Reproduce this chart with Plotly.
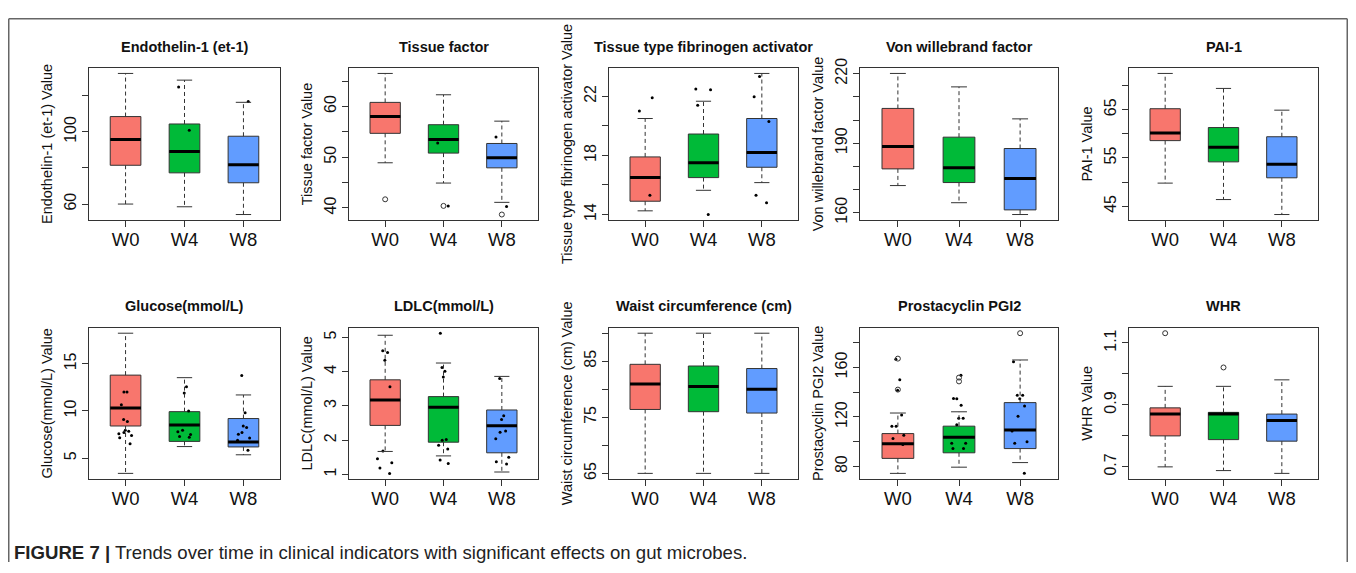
import plotly.graph_objects as go

# page body has an 8px margin on every side; the figure is sized so the page does not overflow
OX, OY = 8, 8
W, H = 1356 - 2 * OX, 573 - 2 * OY

groups = ["W0", "W4", "W8"]
positions = [1, 2, 3]
box_colors = ["#F8766D", "#00BA38", "#619CFF"]

# ---------------- data ----------------
# Endothelin-1 (et-1)
et1_q1 = [81.5, 77.3, 71.8]
et1_med = [95.8, 89.1, 81.8]
et1_q3 = [108.5, 104.4, 97.6]
et1_lo = [60.0, 58.5, 54.2]
et1_hi = [132.4, 128.7, 116.4]
et1_out = [[], [], []]
et1_pts = [[], [124.9, 100.9], [116.9]]
et1_ticks = [60, 80, 100, 120]
et1_labels = ["60", "", "100", ""]

# Tissue factor
tf_q1 = [54.7, 50.8, 47.9]
tf_med = [58.0, 53.5, 49.9]
tf_q3 = [60.8, 56.4, 52.7]
tf_lo = [48.9, 44.9, 41.1]
tf_hi = [66.5, 62.3, 57.1]
tf_out = [[41.7], [40.4], [38.7]]
tf_pts = [[], [52.8, 40.4], [54.0, 40.3]]
tf_ticks = [40, 45, 50, 55, 60, 65]
tf_labels = ["40", "", "50", "", "60", ""]

# Tissue type fibrinogen activator
tta_q1 = [14.9, 16.5, 17.2]
tta_med = [16.5, 17.5, 18.2]
tta_q3 = [17.9, 19.45, 20.5]
tta_lo = [14.25, 15.64, 16.16]
tta_hi = [20.5, 21.67, 23.55]
tta_out = [[], [], []]
tta_pts = [[21.9, 21.0, 15.3], [22.5, 22.45, 21.4, 14.0], [23.34, 21.97, 20.3, 15.3, 14.8]]
tta_ticks = [14, 16, 18, 20, 22]
tta_labels = ["14", "", "18", "", "22"]

# Von willebrand factor
vwf_q1 = [178.9, 173.0, 161.2]
vwf_med = [188.6, 179.4, 174.8]
vwf_q3 = [205.0, 192.6, 187.7]
vwf_lo = [171.7, 164.3, 159.2]
vwf_hi = [220.1, 214.3, 200.5]
vwf_out = [[], [], []]
vwf_pts = [[], [], []]
vwf_ticks = [160, 170, 180, 190, 200, 210, 220]
vwf_labels = ["160", "", "", "190", "", "", "220"]

# PAI-1
pai_q1 = [58.6, 54.2, 50.9]
pai_med = [60.2, 57.2, 53.7]
pai_q3 = [65.2, 61.3, 59.4]
pai_lo = [49.8, 46.4, 43.3]
pai_hi = [72.5, 69.4, 64.9]
pai_out = [[], [], []]
pai_pts = [[], [], []]
pai_ticks = [45, 50, 55, 60, 65, 70]
pai_labels = ["45", "", "55", "", "65", ""]

# Glucose(mmol/L)
glu_q1 = [8.41, 6.78, 6.19]
glu_med = [10.31, 8.51, 6.71]
glu_q3 = [13.8, 9.93, 9.2]
glu_lo = [3.39, 6.23, 5.36]
glu_hi = [18.24, 13.53, 11.7]
glu_out = [[], [], []]
glu_pts = [[12.0, 12.0, 10.66, 8.89, 9.1, 7.85, 7.96, 7.72, 7.58, 7.4, 7.16, 6.54],
           [12.56, 11.9, 10.0, 7.96, 7.8, 7.5, 7.3, 7.23],
           [13.77, 9.8, 8.24, 8.4, 7.72, 7.54, 7.13, 6.9, 5.85]]
glu_ticks = [5, 10, 15]
glu_labels = ["5", "10", "15"]

# LDLC(mmol/L)
ldl_q1 = [2.43, 1.94, 1.63]
ldl_med = [3.17, 2.96, 2.42]
ldl_q3 = [3.76, 3.27, 2.88]
ldl_lo = [1.67, 1.54, 1.07]
ldl_hi = [5.06, 4.25, 3.86]
ldl_out = [[], [], []]
ldl_pts = [[3.56, 4.56, 4.61, 4.33, 1.68, 1.46, 1.34, 1.19, 1.03],
           [5.12, 4.12, 4.01, 3.84, 2.02, 2.0, 1.85, 1.74, 1.42, 1.32],
           [3.8, 2.71, 2.6, 2.27, 2.23, 2.04, 1.5, 1.37, 1.3]]
ldl_ticks = [1, 2, 3, 4, 5]
ldl_labels = ["1", "2", "3", "4", "5"]

# Waist circumference (cm)
wc_q1 = [76.4, 76.0, 75.76]
wc_med = [80.95, 80.5, 80.0]
wc_q3 = [84.45, 84.15, 83.7]
wc_lo = [65.0, 65.0, 65.0]
wc_hi = [90.0, 90.0, 90.0]
wc_out = [[], [], []]
wc_pts = [[], [], []]
wc_ticks = [65, 70, 75, 80, 85, 90]
wc_labels = ["65", "", "75", "", "85", ""]

# Prostacyclin PGI2
pgi_q1 = [86.6, 91.1, 94.5]
pgi_med = [98.4, 103.7, 109.5]
pgi_q3 = [106.6, 112.6, 131.6]
pgi_lo = [74.5, 79.5, 83.2]
pgi_hi = [123.2, 124.2, 166.0]
pgi_out = [[167.1, 142.1], [151.8, 148.7], [187.6]]
pgi_pts = [[166.6, 150.0, 141.6, 121.6, 112.6, 112.6, 105.3, 102.6, 97.9],
           [153.7, 135.0, 134.7, 129.5, 119.0, 119.0, 113.7, 98.9, 98.9, 94.5, 94.5],
           [164.5, 137.6, 137.6, 134.7, 128.9, 120.5, 108.7, 100.0, 98.9, 74.7]]
pgi_ticks = [80, 100, 120, 140, 160, 180]
pgi_labels = ["80", "", "120", "", "160", ""]

# WHR
whr_q1 = [0.800, 0.788, 0.783]
whr_med = [0.8705, 0.8705, 0.850]
whr_q3 = [0.8905, 0.876, 0.8705]
whr_lo = [0.700, 0.688, 0.679]
whr_hi = [0.960, 0.960, 0.981]
whr_out = [[1.1316], [1.021], []]
whr_pts = [[], [], []]
whr_ticks = [0.7, 0.8, 0.9, 1.0, 1.1]
whr_labels = ["0.7", "", "0.9", "", "1.1"]

panels = [
    ("Endothelin-1 (et-1)", et1_q1, et1_med, et1_q3, et1_lo, et1_hi, et1_out, et1_pts, et1_ticks, et1_labels),
    ("Tissue factor", tf_q1, tf_med, tf_q3, tf_lo, tf_hi, tf_out, tf_pts, tf_ticks, tf_labels),
    ("Tissue type fibrinogen activator", tta_q1, tta_med, tta_q3, tta_lo, tta_hi, tta_out, tta_pts, tta_ticks, tta_labels),
    ("Von willebrand factor", vwf_q1, vwf_med, vwf_q3, vwf_lo, vwf_hi, vwf_out, vwf_pts, vwf_ticks, vwf_labels),
    ("PAI-1", pai_q1, pai_med, pai_q3, pai_lo, pai_hi, pai_out, pai_pts, pai_ticks, pai_labels),
    ("Glucose(mmol/L)", glu_q1, glu_med, glu_q3, glu_lo, glu_hi, glu_out, glu_pts, glu_ticks, glu_labels),
    ("LDLC(mmol/L)", ldl_q1, ldl_med, ldl_q3, ldl_lo, ldl_hi, ldl_out, ldl_pts, ldl_ticks, ldl_labels),
    ("Waist circumference (cm)", wc_q1, wc_med, wc_q3, wc_lo, wc_hi, wc_out, wc_pts, wc_ticks, wc_labels),
    ("Prostacyclin PGI2", pgi_q1, pgi_med, pgi_q3, pgi_lo, pgi_hi, pgi_out, pgi_pts, pgi_ticks, pgi_labels),
    ("WHR", whr_q1, whr_med, whr_q3, whr_lo, whr_hi, whr_out, whr_pts, whr_ticks, whr_labels),
]

caption_bold = "FIGURE 7 |"
caption_text = "Trends over time in clinical indicators with significant effects on gut microbes."

# ---------------- layout geometry (page pixels) ----------------
col_px = [(89, 280), (349, 538), (609, 798), (860, 1058), (1129, 1318)]
row_px = [(59, 215), (325, 480)]
title_px = [38, 303]
caption_px = 555
BOXW = 0.52
CAP = 0.13
FONT = "Liberation Sans, Arial, Helvetica, sans-serif"
LINE = "#333333"


def px_x(px):
    return (px - OX) / W


def px_y(py):
    return 1 - (py - OY) / H


fig = go.Figure()
annotations = []
layout_axes = {}

for k, (title, q1, med, q3, lo, hi, outs, pts, ticks, labels) in enumerate(panels):
    r, c = divmod(k, 5)
    n = k + 1
    xa = "x" if n == 1 else f"x{n}"
    ya = "y" if n == 1 else f"y{n}"

    # boxes
    for i in range(3):
        fig.add_trace(go.Box(
            x=[positions[i]], q1=[q1[i]], median=[med[i]], q3=[q3[i]],
            lowerfence=[q1[i]], upperfence=[q3[i]],
            width=BOXW, fillcolor=box_colors[i], line=dict(color=LINE, width=1),
            whiskerwidth=0, boxpoints=False, xaxis=xa, yaxis=ya,
            showlegend=False, hoverinfo="skip"))

    # dashed whiskers, caps and thick medians
    wx, wy, cx, cy, mx, my = [], [], [], [], [], []
    for i in range(3):
        p = positions[i]
        wx += [p, p, None, p, p, None]
        wy += [q3[i], hi[i], None, q1[i], lo[i], None]
        cx += [p - CAP, p + CAP, None, p - CAP, p + CAP, None]
        cy += [hi[i], hi[i], None, lo[i], lo[i], None]
        mx += [p - BOXW / 2, p + BOXW / 2, None]
        my += [med[i], med[i], None]
    fig.add_trace(go.Scatter(x=wx, y=wy, mode="lines", line=dict(color=LINE, width=1, dash="4px,3px"),
                             xaxis=xa, yaxis=ya, showlegend=False, hoverinfo="skip"))
    fig.add_trace(go.Scatter(x=cx, y=cy, mode="lines", line=dict(color=LINE, width=1),
                             xaxis=xa, yaxis=ya, showlegend=False, hoverinfo="skip"))
    fig.add_trace(go.Scatter(x=mx, y=my, mode="lines", line=dict(color="black", width=3),
                             xaxis=xa, yaxis=ya, showlegend=False, hoverinfo="skip"))

    # outliers (open circles)
    ox, oy = [], []
    for i in range(3):
        for v in outs[i]:
            ox.append(positions[i])
            oy.append(v)
    if ox:
        fig.add_trace(go.Scatter(x=ox, y=oy, mode="markers",
                                 marker=dict(symbol="circle-open", size=5, color=LINE, line=dict(width=1)),
                                 xaxis=xa, yaxis=ya, showlegend=False, hoverinfo="skip"))

    # jittered individual points
    for i in range(3):
        if pts[i]:
            fig.add_trace(go.Box(
                x=[positions[i]] * len(pts[i]), y=pts[i], width=BOXW,
                boxpoints="all", jitter=0.6, pointpos=0,
                fillcolor="rgba(0,0,0,0)", line=dict(width=0, color="rgba(0,0,0,0)"),
                marker=dict(color="black", size=3),
                xaxis=xa, yaxis=ya, showlegend=False, hoverinfo="skip"))

    allv = lo + hi + [v for g in outs for v in g] + [v for g in pts for v in g]
    vmin, vmax = min(allv), max(allv)
    pad = (vmax - vmin) * 0.04

    x0, x1 = col_px[c]
    y0, y1 = row_px[r]
    layout_axes["xaxis" if n == 1 else f"xaxis{n}"] = dict(
        domain=[px_x(x0), px_x(x1)], range=[0.38, 3.62], anchor=ya,
        tickvals=positions, ticktext=groups, ticks="outside", ticklen=6, tickcolor=LINE,
        ticklabelstandoff=-3,
        showline=True, mirror=True, linecolor=LINE, linewidth=1,
        showgrid=False, zeroline=False, tickfont=dict(size=18.5, color="#111", family=FONT))
    layout_axes["yaxis" if n == 1 else f"yaxis{n}"] = dict(
        domain=[px_y(y1), px_y(y0)], range=[vmin - pad, vmax + pad], anchor=xa,
        tickvals=ticks, ticktext=labels, tickangle=-90, ticks="outside", ticklen=6, tickcolor=LINE,
        showline=True, mirror=True, linecolor=LINE, linewidth=1,
        showgrid=False, zeroline=False, tickfont=dict(size=16, color="#111", family=FONT),
        title=dict(text=title + " Value", font=dict(size=14.5, color="#111", family=FONT), standoff=5))

    annotations.append(dict(
        text="<b>" + title + "</b>", x=px_x((x0 + x1) / 2), y=px_y(title_px[r]),
        xref="paper", yref="paper", xanchor="center", yanchor="middle", showarrow=False,
        font=dict(size=14.5, color="#111", family=FONT)))

annotations.append(dict(
    text="<b>" + caption_bold + "</b> " + caption_text, x=px_x(12), y=px_y(caption_px),
    xref="paper", yref="paper", xanchor="left", yanchor="middle", showarrow=False,
    font=dict(size=18.6, color="#222", family=FONT)))

# page frame: top, left and right edges (bottom edge lies outside the view in the original)
bx0, bx1, by0, by1 = px_x(8.75), px_x(1347.25), 0.0, px_y(8.75)
frame_line = dict(color="#666", width=1.5)
shapes = [
    dict(type="line", xref="paper", yref="paper", x0=bx0, x1=bx1, y0=by1, y1=by1, line=frame_line),
    dict(type="line", xref="paper", yref="paper", x0=bx0, x1=bx0, y0=by0, y1=by1, line=frame_line),
    dict(type="line", xref="paper", yref="paper", x0=bx1, x1=bx1, y0=by0, y1=by1, line=frame_line),
]

fig.update_layout(
    width=W, height=H, margin=dict(l=0, r=0, t=0, b=0),
    paper_bgcolor="white", plot_bgcolor="white", boxmode="overlay",
    font=dict(family=FONT, color="#111"),
    annotations=annotations, shapes=shapes,
    **layout_axes)

fig.write_html("out.html")
